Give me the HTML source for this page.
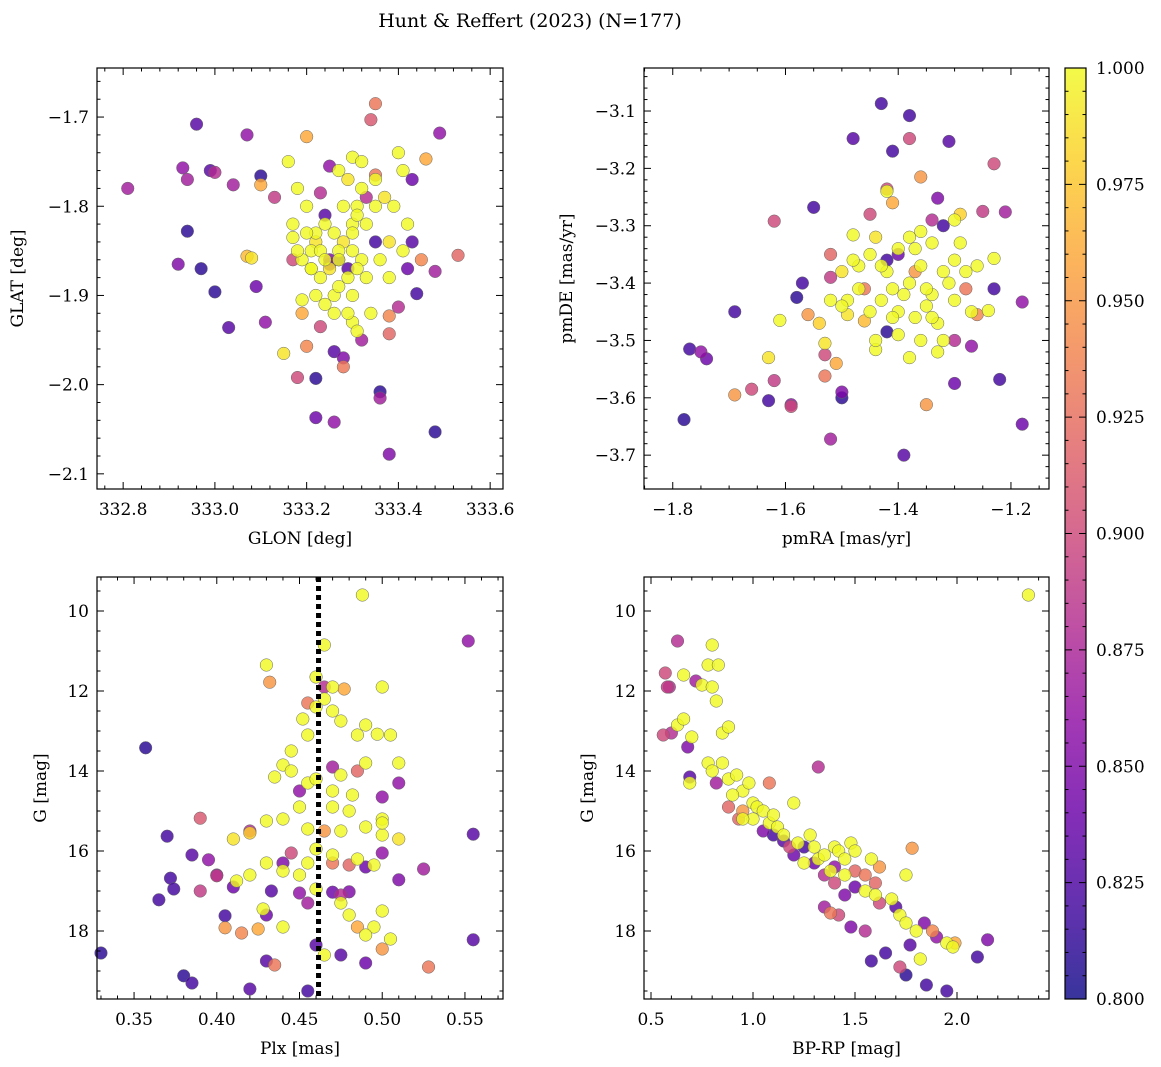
<!DOCTYPE html>
<html><head><meta charset="utf-8"><style>
html,body{margin:0;padding:0;background:#fff;}
svg{display:block;font-family:"DejaVu Serif","Liberation Serif",serif;}
</style></head><body>
<svg id="fig" width="1161" height="1067" viewBox="0 0 1161 1067" xmlns="http://www.w3.org/2000/svg">
<text x="530" y="27" font-size="19" text-anchor="middle">Hunt &amp; Reffert (2023) (N=177)</text>
</svg>
<script>
// ---------- DATA ----------
const p1Points = [
[332.81,-1.78,0.87],[332.92,-1.865,0.85],[332.93,-1.757,0.86],[332.94,-1.77,0.87],[332.94,-1.828,0.81],[332.96,-1.708,0.83],[332.97,-1.87,0.81],[332.99,-1.76,0.83],[333.0,-1.762,0.88],[333.0,-1.896,0.81],[333.03,-1.936,0.83],[333.04,-1.776,0.87],[333.07,-1.72,0.86],[333.07,-1.856,0.97],[333.08,-1.858,0.99],[333.09,-1.89,0.84],[333.1,-1.766,0.81],[333.1,-1.776,0.96],[333.11,-1.93,0.86],[333.13,-1.79,0.89],[333.15,-1.965,0.99],[333.16,-1.75,1.0],[333.17,-1.835,1.0],[333.17,-1.86,0.9],[333.18,-1.78,1.0],[333.18,-1.992,0.9],[333.19,-1.905,1.0],[333.19,-1.92,0.96],[333.2,-1.722,0.96],[333.2,-1.957,0.94],[333.21,-1.85,1.0],[333.21,-1.87,1.0],[333.22,-1.993,0.81],[333.22,-2.037,0.84],[333.22,-1.83,1.0],[333.23,-1.785,0.88],[333.23,-1.935,0.9],[333.24,-1.81,0.83],[333.24,-1.91,1.0],[333.25,-1.755,0.86],[333.25,-1.86,0.85],[333.26,-1.963,0.83],[333.26,-2.042,0.86],[333.27,-1.85,1.0],[333.28,-1.97,0.85],[333.28,-1.98,0.93],[333.29,-1.77,0.99],[333.3,-1.745,1.0],[333.3,-1.82,1.0],[333.3,-1.93,1.0],[333.31,-1.8,1.0],[333.32,-1.86,1.0],[333.32,-1.95,0.87],[333.33,-1.79,0.88],[333.34,-1.703,0.91],[333.35,-1.685,0.93],[333.35,-1.84,0.82],[333.35,-1.765,0.93],[333.36,-2.008,0.81],[333.36,-2.015,0.87],[333.37,-1.79,0.99],[333.38,-1.84,0.99],[333.38,-1.923,0.94],[333.38,-1.943,0.92],[333.38,-2.078,0.85],[333.39,-1.8,1.0],[333.4,-1.74,1.0],[333.4,-1.913,0.88],[333.41,-1.76,1.0],[333.42,-1.87,0.84],[333.43,-1.77,0.84],[333.43,-1.84,0.83],[333.44,-1.898,0.82],[333.45,-1.86,0.94],[333.46,-1.747,0.96],[333.48,-1.873,0.87],[333.48,-2.053,0.81],[333.49,-1.718,0.86],[333.53,-1.855,0.92],
[333.2,-1.83,1],[333.22,-1.84,0.99],[333.24,-1.82,1],[333.26,-1.83,1],[333.28,-1.84,0.99],[333.3,-1.85,1],[333.21,-1.87,1],[333.23,-1.88,1],[333.25,-1.87,0.99],[333.27,-1.86,1],[333.29,-1.88,1],[333.31,-1.87,1],[333.19,-1.86,1],[333.22,-1.9,1],[333.26,-1.9,1],[333.3,-1.9,1],[333.33,-1.88,1],[333.28,-1.8,1],[333.31,-1.81,1],[333.33,-1.82,1],[333.27,-1.76,1],[333.32,-1.78,1],[333.35,-1.8,1],[333.29,-1.92,1],[333.34,-1.92,1],[333.23,-1.85,1],[333.27,-1.89,1],[333.36,-1.86,1],[333.18,-1.85,1],[333.2,-1.8,1],[333.35,-1.77,1],[333.42,-1.82,1],[333.41,-1.85,1],[333.3,-1.83,1],[333.24,-1.86,1],[333.38,-1.88,1],[333.32,-1.75,1],[333.26,-1.92,1],[333.31,-1.94,1],[333.17,-1.82,1],
[333.27,-1.86,0.82],[333.29,-1.87,0.83],[333.25,-1.865,0.84]
];
const p2Points = [
[-1.78,-3.638,0.81],[-1.77,-3.515,0.82],[-1.74,-3.532,0.84],[-1.75,-3.52,0.86],[-1.69,-3.45,0.82],[-1.69,-3.595,0.95],[-1.66,-3.585,0.9],[-1.63,-3.53,0.99],[-1.63,-3.605,0.82],[-1.62,-3.292,0.9],[-1.62,-3.57,0.89],[-1.61,-3.465,1.0],[-1.59,-3.612,0.86],[-1.59,-3.615,0.9],[-1.58,-3.425,0.81],[-1.57,-3.4,0.82],[-1.56,-3.455,0.95],[-1.55,-3.268,0.82],[-1.54,-3.47,0.98],[-1.53,-3.505,0.99],[-1.53,-3.525,0.9],[-1.53,-3.562,0.93],[-1.52,-3.672,0.87],[-1.52,-3.35,0.92],[-1.52,-3.39,0.89],[-1.51,-3.54,0.96],[-1.5,-3.38,0.99],[-1.5,-3.59,0.85],[-1.5,-3.6,0.81],[-1.49,-3.455,0.99],[-1.48,-3.148,0.83],[-1.48,-3.316,1.0],[-1.47,-3.37,1.0],[-1.46,-3.41,0.93],[-1.46,-3.466,0.97],[-1.45,-3.28,0.9],[-1.44,-3.32,0.99],[-1.44,-3.516,1.0],[-1.43,-3.087,0.82],[-1.42,-3.236,0.9],[-1.42,-3.36,0.82],[-1.42,-3.485,0.81],[-1.41,-3.17,0.82],[-1.41,-3.26,0.96],[-1.4,-3.35,0.84],[-1.4,-3.45,1.0],[-1.39,-3.7,0.83],[-1.38,-3.148,0.9],[-1.38,-3.108,0.82],[-1.37,-3.38,0.95],[-1.36,-3.215,0.95],[-1.35,-3.612,0.95],[-1.34,-3.29,0.88],[-1.33,-3.252,0.85],[-1.32,-3.3,0.82],[-1.31,-3.153,0.83],[-1.3,-3.5,0.88],[-1.3,-3.575,0.84],[-1.29,-3.28,0.98],[-1.28,-3.41,0.93],[-1.27,-3.51,0.86],[-1.26,-3.455,0.94],[-1.25,-3.275,0.89],[-1.24,-3.448,1.0],[-1.23,-3.357,1.0],[-1.23,-3.192,0.9],[-1.23,-3.41,0.82],[-1.22,-3.568,0.82],[-1.21,-3.276,0.87],[-1.18,-3.433,0.86],[-1.18,-3.646,0.84],
[-1.45,-3.35,1],[-1.42,-3.38,1],[-1.4,-3.34,1],[-1.38,-3.4,1],[-1.36,-3.37,1],[-1.34,-3.42,1],[-1.32,-3.38,1],[-1.3,-3.43,1],[-1.43,-3.43,1],[-1.41,-3.46,1],[-1.39,-3.42,1],[-1.37,-3.46,1],[-1.35,-3.44,1],[-1.33,-3.47,1],[-1.31,-3.4,1],[-1.29,-3.33,1],[-1.36,-3.31,1],[-1.34,-3.33,1],[-1.38,-3.32,1],[-1.47,-3.41,1],[-1.49,-3.43,1],[-1.45,-3.45,1],[-1.4,-3.49,1],[-1.36,-3.5,1],[-1.33,-3.52,1],[-1.28,-3.38,1],[-1.26,-3.37,1],[-1.27,-3.45,1],[-1.32,-3.5,1],[-1.38,-3.53,1],[-1.44,-3.5,1],[-1.5,-3.44,1],[-1.52,-3.43,1],[-1.48,-3.36,1],[-1.43,-3.37,1],[-1.41,-3.41,1],[-1.35,-3.41,1],[-1.3,-3.36,1],[-1.42,-3.24,1],[-1.3,-3.29,1],[-1.34,-3.46,1],[-1.37,-3.34,1]
];
const p3Points = [
[0.33,18.55,0.81],[0.357,13.42,0.81],[0.365,17.22,0.82],[0.37,15.63,0.82],[0.372,16.68,0.82],[0.374,16.95,0.82],[0.38,19.12,0.81],[0.385,19.3,0.82],[0.385,16.1,0.83],[0.39,17.0,0.89],[0.39,15.18,0.91],[0.395,16.22,0.86],[0.4,16.62,0.89],[0.405,17.92,0.95],[0.405,17.62,0.82],[0.41,16.9,0.84],[0.42,19.45,0.83],[0.43,18.75,0.83],[0.433,17.0,0.83],[0.552,10.75,0.86],[0.555,15.58,0.83],[0.555,18.22,0.83],[0.525,16.45,0.87],[0.51,16.72,0.85],
[0.43,11.35,1],[0.465,10.85,1],[0.46,11.65,1],[0.47,11.9,1],[0.465,12.2,1],[0.47,12.5,1],[0.452,12.7,1],[0.475,12.75,1],[0.49,12.85,1],[0.5,11.9,1],[0.485,13.1,1],[0.497,13.08,1],[0.505,13.1,1],[0.44,13.85,1],[0.435,14.15,1],[0.445,14.0,1],[0.455,14.3,1],[0.46,14.2,1],[0.475,14.1,1],[0.49,13.8,1],[0.51,13.8,1],[0.47,14.5,1],[0.48,15.0,1],[0.5,15.2,1],[0.49,15.4,1],[0.475,15.5,1],[0.455,15.45,1],[0.44,15.2,1],[0.43,15.25,1],[0.42,15.55,0.98],[0.41,15.7,0.99],[0.46,15.95,1],[0.47,16.1,1],[0.485,16.2,1],[0.495,16.35,1],[0.5,15.6,1],[0.51,15.7,0.99],[0.43,16.3,1],[0.44,16.5,1],[0.45,16.6,1],[0.46,16.95,1],[0.475,17.3,1],[0.48,17.6,1],[0.5,17.5,1],[0.495,17.9,1],[0.505,18.2,1],[0.49,18.1,1],[0.465,18.6,1],[0.428,17.45,1],[0.42,16.6,1],[0.412,16.75,1],[0.445,13.5,1],[0.45,14.9,1],[0.488,9.6,1],[0.47,14.9,1],[0.455,16.3,1],[0.44,17.9,1],[0.5,15.3,1],[0.46,12.4,1],[0.482,14.6,1],[0.455,13.1,1],
[0.432,11.78,0.95],[0.465,11.9,0.88],[0.477,11.95,0.96],[0.455,12.3,0.93],[0.445,16.05,0.9],[0.47,16.3,0.93],[0.48,16.35,0.92],[0.425,17.95,0.96],[0.415,18.05,0.94],[0.485,17.9,0.96],[0.5,18.45,0.95],[0.528,18.9,0.93],[0.435,18.85,0.93],[0.465,15.5,0.95],[0.485,14.0,0.92],[0.475,17.1,0.88],[0.455,17.3,0.87],
[0.44,16.3,0.85],[0.45,17.05,0.86],[0.47,17.03,0.84],[0.48,17.02,0.85],[0.49,16.4,0.84],[0.5,16.05,0.86],[0.51,14.3,0.86],[0.5,14.65,0.86],[0.47,13.9,0.87],[0.45,14.5,0.86],[0.42,15.5,0.88],[0.4,16.6,0.86],[0.43,17.6,0.84],[0.455,19.5,0.82],[0.46,18.35,0.83],[0.475,18.6,0.83],[0.49,18.8,0.84]
];
const p4Points = [
[0.57,11.55,0.9],[0.58,11.9,0.89],[0.59,11.9,0.88],[0.63,10.75,0.88],[0.56,13.1,0.9],[0.6,13.05,0.88],[0.68,13.4,0.85],[0.72,11.75,0.87],[0.69,14.15,0.83],[0.82,14.3,0.87],[0.93,15.2,0.92],[1.08,14.3,0.93],[1.1,15.6,0.82],[1.15,15.75,0.83],[1.32,13.9,0.88],[1.2,16.1,0.84],[1.3,16.3,0.84],[1.35,16.6,0.88],[1.4,16.8,0.9],[1.5,16.5,0.92],[1.55,16.6,0.93],[1.6,16.8,0.92],[1.62,16.4,0.95],[1.45,17.1,0.85],[1.38,17.55,0.93],[1.42,17.6,0.9],[1.48,17.9,0.85],[1.55,18.0,0.88],[1.58,18.75,0.82],[1.65,18.55,0.82],[1.72,18.9,0.9],[1.75,19.1,0.81],[1.77,18.35,0.83],[1.84,17.8,0.85],[1.85,19.35,0.82],[1.9,18.15,0.86],[1.95,19.5,0.82],[1.88,18.0,0.94],[1.99,18.3,0.96],[2.1,18.65,0.82],[2.15,18.22,0.85],[1.78,15.93,0.95],[1.7,17.4,0.83],[1.25,15.9,0.82],[1.4,16.4,0.86],[1.5,16.9,0.84],[1.62,17.3,0.9],[1.35,17.4,0.87],[0.95,15.0,0.95],[0.88,14.9,0.92],[1.18,15.9,0.9],[1.05,15.5,0.85],
[0.66,11.6,1],[0.8,10.85,1],[0.78,11.35,1],[0.83,11.35,1],[0.75,11.85,1],[0.8,11.9,1],[0.82,12.25,1],[0.85,13.05,1],[0.88,12.9,1],[0.63,12.85,1],[0.66,12.7,1],[0.7,13.15,1],[0.69,14.3,1],[0.78,13.8,1],[0.8,14.0,1],[0.85,13.8,1],[0.88,14.2,1],[0.92,14.1,1],[0.95,14.5,1],[0.98,14.3,1],[1.0,14.8,1],[1.02,14.9,1],[1.05,15.0,1],[1.0,15.2,1],[1.08,15.3,1],[1.12,15.4,1],[1.2,14.8,1],[1.15,15.6,1],[1.22,15.8,1],[1.28,15.6,1],[1.3,15.9,1],[1.32,16.2,1],[1.35,16.1,1],[1.4,15.9,1],[1.42,16.0,1],[1.45,16.2,1],[1.48,15.8,1],[1.5,16.0,1],[1.38,16.5,1],[1.45,16.6,1],[1.55,17.0,1],[1.6,17.1,1],[1.68,17.2,1],[1.72,17.6,1],[1.75,16.6,1],[1.75,17.8,1],[1.8,18.0,1],[1.82,18.7,1],[1.95,18.3,1],[1.98,18.4,1],[2.35,9.6,1],[0.95,15.2,1],[0.9,14.6,1],[1.1,15.1,1],[1.58,16.2,1],[1.25,16.3,1]
];
const p1XTicks = [332.8,333.0,333.2,333.4,333.6];
const p1YTicks = [-1.7,-1.8,-1.9,-2.0,-2.1];
const p2XTicks = [-1.8,-1.6,-1.4,-1.2];
const p2YTicks = [-3.1,-3.2,-3.3,-3.4,-3.5,-3.6,-3.7];
const p3XTicks = [0.35,0.40,0.45,0.50,0.55];
const gTicks = [10,12,14,16,18];
const p4XTicks = [0.5,1.0,1.5,2.0];
const cbTicks = [0.800,0.825,0.850,0.875,0.900,0.925,0.950,0.975,1.000];
const plxLine = 0.4615;

// ---------- helpers ----------
const NS="http://www.w3.org/2000/svg";
const svg=document.getElementById('fig');
function mk(tag,attrs,parent){const e=document.createElementNS(NS,tag);for(const k in attrs)e.setAttribute(k,attrs[k]);(parent||svg).appendChild(e);return e;}
const stops=[[0,'#0d0887'],[0.1,'#41049d'],[0.2,'#6a00a8'],[0.3,'#8f0da4'],[0.4,'#b12a90'],[0.5,'#cc4778'],[0.6,'#e16462'],[0.7,'#f2844b'],[0.8,'#fca636'],[0.9,'#fcce25'],[1,'#f0f921']];
function hex(h){return [1,3,5].map(i=>parseInt(h.substr(i,2),16));}
function cmap(v){let t=Math.max(0,Math.min(1,(v-0.8)/0.2));for(let i=0;i<stops.length-1;i++){if(t<=stops[i+1][0]){const a=hex(stops[i][1]),b=hex(stops[i+1][1]);const f=(t-stops[i][0])/(stops[i+1][0]-stops[i][0]);return 'rgb('+a.map((c,j)=>Math.round(c+(b[j]-c)*f)).join(',')+')';}}return stops[stops.length-1][1];}
function fmt(v,d){return v.toFixed(d).replace('-','\u2212');}

function panel(o){
  const g=mk('g',{});
  
  
  const sx=v=>o.x0+(v-o.xmin)/(o.xmax-o.xmin)*(o.x1-o.x0);
  const sy=o.yinv? v=>o.y0+(v-o.ymax)/(o.ymin-o.ymax)*(o.y1-o.y0) : v=>o.y0+(o.ymax-v)/(o.ymax-o.ymin)*(o.y1-o.y0);
  const pts=mk('g',{},g);
  
  
  const sorted=o.pts.slice().sort((a,b)=>a[2]-b[2]);
  for(const p of sorted){
    const c=mk('circle',{cx:sx(p[0]),cy:sy(p[1]),r:6.3,fill:cmap(p[2]),'fill-opacity':0.82,stroke:'#666','stroke-width':0.5},pts);
    
    
  }
  if(o.vline!==undefined){
    const l=mk('line',{x1:sx(o.vline),x2:sx(o.vline),y1:o.y0,y2:o.y1,stroke:'#000','stroke-width':5,'stroke-dasharray':'5,4'},g);
    
    
  }
  const tk=mk('g',{stroke:'#000','stroke-width':1},g);
  const xstep=o.xt[1]-o.xt[0], ystep=o.yt[1]-o.yt[0];
  for(let v=o.xt[0]-xstep*3;v<=o.xmax+1e-9;v+=xstep/o.xm){ if(v<o.xmin-1e-9)continue;
    const maj=o.xt.some(t=>Math.abs(t-v)<1e-6); const L=maj?7:3.5; const X=sx(v);
    mk('line',{x1:X,x2:X,y1:o.y1,y2:o.y1-L},tk); mk('line',{x1:X,x2:X,y1:o.y0,y2:o.y0+L},tk);}
  const ylo=Math.min(o.ymin,o.ymax), yhi=Math.max(o.ymin,o.ymax); const ys=Math.abs(ystep);
  const ystart=Math.min(...o.yt)-ys*3;
  for(let v=ystart;v<=yhi+1e-9;v+=ys/o.ym){ if(v<ylo-1e-9)continue;
    const maj=o.yt.some(t=>Math.abs(t-v)<1e-6); const L=maj?7:3.5; const Y=sy(v);
    mk('line',{x1:o.x0,x2:o.x0+L,y1:Y,y2:Y},tk); mk('line',{x1:o.x1,x2:o.x1-L,y1:Y,y2:Y},tk);}
  for(const t of o.xt){const e=mk('text',{x:sx(t),y:o.y1+26,'font-size':17,'text-anchor':'middle'},g);e.textContent=fmt(t,o.xd);
    }
  for(const t of o.yt){const e=mk('text',{x:o.x0-8,y:sy(t)+6,'font-size':17,'text-anchor':'end'},g);e.textContent=fmt(t,o.yd);
    }
  mk('rect',{x:o.x0,y:o.y0,width:o.x1-o.x0,height:o.y1-o.y0,fill:'none',stroke:'#000','stroke-width':1.2},g);
  const xl=mk('text',{x:(o.x0+o.x1)/2,y:o.y1+55,'font-size':17,'text-anchor':'middle'},g);xl.textContent=o.xlab;
  
  const yx=o.ylx, yy=(o.y0+o.y1)/2;
  const yl=mk('text',{x:yx,y:yy,'font-size':17,'text-anchor':'middle',transform:'rotate(-90 '+yx+' '+yy+')'},g);yl.textContent=o.ylab;
  
}

panel({name:'glon-glat-panel',pts:p1Points,x0:97,x1:503,y0:68,y1:489,xmin:332.743,xmax:333.628,ymin:-2.117,ymax:-1.645,xt:p1XTicks,yt:p1YTicks,xm:5,ym:5,xd:1,yd:1,xlab:'GLON [deg]',ylab:'GLAT [deg]',ylx:23});
panel({name:'proper-motion-panel',pts:p2Points,x0:644,x1:1049,y0:68,y1:489,xmin:-1.851,xmax:-1.1325,ymin:-3.759,ymax:-3.025,xt:p2XTicks,yt:p2YTicks,xm:4,ym:5,xd:1,yd:1,xlab:'pmRA [mas/yr]',ylab:'pmDE [mas/yr]',ylx:572});
panel({name:'plx-g-panel',pts:p3Points,x0:97,x1:503,y0:577,y1:999,xmin:0.3276,xmax:0.573,ymin:19.7,ymax:9.15,yinv:true,xt:p3XTicks,yt:gTicks,xm:5,ym:4,xd:2,yd:0,xlab:'Plx [mas]',ylab:'G [mag]',ylx:46,vline:plxLine});
panel({name:'cmd-panel',pts:p4Points,x0:644,x1:1049,y0:577,y1:999,xmin:0.4657,xmax:2.451,ymin:19.7,ymax:9.15,yinv:true,xt:p4XTicks,yt:gTicks,xm:5,ym:4,xd:1,yd:0,xlab:'BP-RP [mag]',ylab:'G [mag]',ylx:593});

const cb=mk('g',{});


const defs=mk('defs',{},cb);
const lg=mk('linearGradient',{id:'plasma',x1:0,y1:1,x2:0,y2:0},defs);
for(const s of stops) mk('stop',{offset:s[0],'stop-color':s[1]},lg);
const cbx=1065,cbw=21,cby0=68,cby1=999;
mk('rect',{x:cbx,y:cby0,width:cbw,height:cby1-cby0,fill:'url(#plasma)','fill-opacity':0.82},cb);
mk('rect',{x:cbx,y:cby0,width:cbw,height:cby1-cby0,fill:'none',stroke:'#000','stroke-width':1.2},cb);
const cy=v=>cby1-(v-0.8)/0.2*(cby1-cby0);
for(let v=0.8;v<=1.0001;v+=0.005){const maj=cbTicks.some(t=>Math.abs(t-v)<1e-6);const Y=cy(v);
  mk('line',{x1:cbx+cbw,x2:cbx+cbw-(maj?7:3.5),y1:Y,y2:Y,stroke:'#000','stroke-width':1},cb);
  mk('line',{x1:cbx,x2:cbx+(maj?7:3.5),y1:Y,y2:Y,stroke:'#000','stroke-width':1},cb);}
for(const t of cbTicks){const e=mk('text',{x:1096,y:cy(t)+6,'font-size':17},cb);e.textContent=t.toFixed(3);
  }
</script>
</body></html>
